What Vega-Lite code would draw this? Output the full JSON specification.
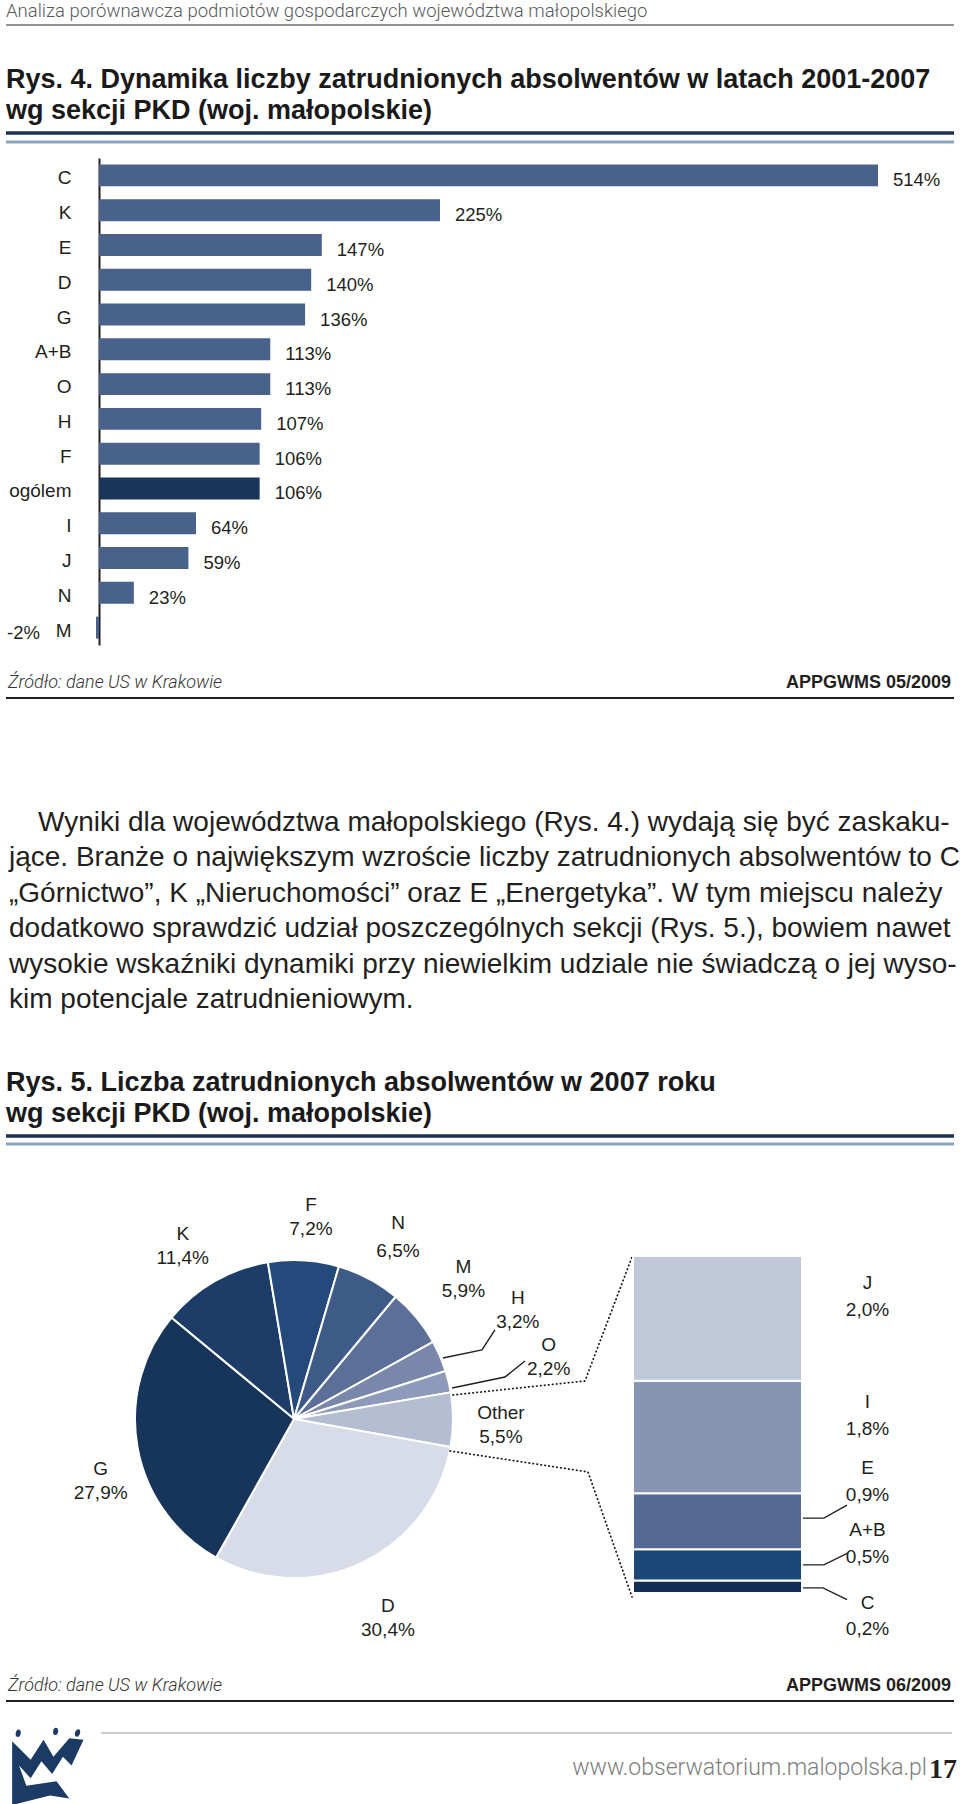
{
  "$schema": "https://vega.github.io/schema/vega-lite/v6.json",
  "width": 960,
  "height": 1804,
  "autosize": {"type": "fit", "contains": "padding"},
  "padding": 0,
  "background": "#ffffff",
  "config": {
    "view": {"stroke": null},
    "text": {"font": "Liberation Sans", "color": "#231f20"},
    "locale": {"number": {"decimal": ",", "thousands": " ", "grouping": [3], "currency": ["", " zł"], "minus": "-"}}
  },
  "datasets": {
    "dynamics": [
      {"section": "C", "dyn": 5.14},
      {"section": "K", "dyn": 2.25},
      {"section": "E", "dyn": 1.47},
      {"section": "D", "dyn": 1.40},
      {"section": "G", "dyn": 1.36},
      {"section": "A+B", "dyn": 1.13},
      {"section": "O", "dyn": 1.13},
      {"section": "H", "dyn": 1.07},
      {"section": "F", "dyn": 1.06},
      {"section": "ogólem", "dyn": 1.06},
      {"section": "I", "dyn": 0.64},
      {"section": "J", "dyn": 0.59},
      {"section": "N", "dyn": 0.23},
      {"section": "M", "dyn": -0.02}
    ],
    "employment": [
      {"section": "K", "share": 0.114},
      {"section": "F", "share": 0.072},
      {"section": "N", "share": 0.065},
      {"section": "M", "share": 0.059},
      {"section": "H", "share": 0.032},
      {"section": "O", "share": 0.022},
      {"section": "Other", "share": 0.055},
      {"section": "D", "share": 0.304},
      {"section": "G", "share": 0.279}
    ],
    "other_detail": [
      {"section": "C", "share": 0.002},
      {"section": "A+B", "share": 0.005},
      {"section": "E", "share": 0.009},
      {"section": "I", "share": 0.018},
      {"section": "J", "share": 0.020}
    ],
    "figures": [
      {"fig": "Rys. 4", "source": "Źródło: dane US w Krakowie", "code": "APPGWMS 05/2009"},
      {"fig": "Rys. 5", "source": "Źródło: dane US w Krakowie", "code": "APPGWMS 06/2009"}
    ]
  },
  "resolve": {"scale": {"x": "independent", "y": "independent", "theta": "independent", "color": "independent", "shape": "independent"}},
  "layer": [
    {
      "data": {"values": [{"line": 1, "text": "Analiza porównawcza podmiotów gospodarczych województwa małopolskiego"}]},
      "mark": {"type": "text", "align": "left", "baseline": "alphabetic", "font": "Roboto", "fontWeight": 300, "fontSize": 18.5, "color": "#58595b"},
      "encoding": {
        "x": {"datum": 0, "type": "quantitative", "scale": {"domain": [0, 1], "range": [6, 954]}, "axis": null},
        "y": {"field": "line", "type": "ordinal", "scale": {"type": "point", "domain": [1], "range": [17, 17], "padding": 0}, "axis": null},
        "text": {"field": "text"}
      }
    },
    {
      "data": {"values": [{"line": 1}]},
      "mark": {"type": "rule", "color": "#6d6e70", "strokeWidth": 1.5},
      "encoding": {
        "x": {"datum": 0, "type": "quantitative", "scale": {"domain": [0, 1], "range": [6, 954]}, "axis": null},
        "x2": {"datum": 1},
        "y": {"field": "line", "type": "ordinal", "scale": {"type": "point", "domain": [1], "range": [25, 25], "padding": 0}, "axis": null}
      }
    },
    {
      "data": {"values": [
        {"line": 1, "text": "Rys. 4. Dynamika liczby zatrudnionych absolwentów w latach 2001-2007"},
        {"line": 2, "text": "wg sekcji PKD (woj. małopolskie)"}
      ]},
      "mark": {"type": "text", "align": "left", "baseline": "alphabetic", "fontWeight": "bold", "fontSize": 27, "color": "#1a1a1a"},
      "encoding": {
        "x": {"datum": 0, "type": "quantitative", "scale": {"domain": [0, 1], "range": [6, 954]}, "axis": null},
        "y": {"field": "line", "type": "ordinal", "scale": {"type": "point", "domain": [1, 2], "range": [88, 119], "padding": 0}, "axis": null},
        "text": {"field": "text"}
      }
    },
    {
      "data": {"name": "figures"},
      "mark": {"type": "rule", "color": "#1f3152", "strokeWidth": 3.5},
      "encoding": {
        "x": {"datum": 0, "type": "quantitative", "scale": {"domain": [0, 1], "range": [6, 954]}, "axis": null},
        "x2": {"datum": 1},
        "y": {"field": "fig", "type": "nominal", "scale": {"type": "point", "domain": ["Rys. 4", "Rys. 5"], "range": [133, 1136], "padding": 0}, "axis": null}
      }
    },
    {
      "data": {"name": "figures"},
      "mark": {"type": "rule", "color": "#8aa6be", "strokeWidth": 3},
      "encoding": {
        "x": {"datum": 0, "type": "quantitative", "scale": {"domain": [0, 1], "range": [6, 954]}, "axis": null},
        "x2": {"datum": 1},
        "y": {"field": "fig", "type": "nominal", "scale": {"type": "point", "domain": ["Rys. 4", "Rys. 5"], "range": [142, 1144], "padding": 0}, "axis": null}
      }
    },
    {
      "data": {"name": "dynamics"},
      "encoding": {
        "y": {
          "field": "section", "type": "nominal",
          "scale": {"domain": ["C", "K", "E", "D", "G", "A+B", "O", "H", "F", "ogólem", "I", "J", "N", "M"], "range": [158, 645], "paddingInner": 0.37, "paddingOuter": 0.185},
          "axis": {"orient": "left", "offset": -99, "title": null, "ticks": false, "grid": false, "domainColor": "#231f20", "domainWidth": 2, "labelPadding": 28, "labelOffset": 3, "labelFont": "Liberation Sans", "labelFontSize": 19, "labelColor": "#231f20"}
        },
        "x": {"field": "dyn", "type": "quantitative", "scale": {"domain": [0, 5.14], "range": [99, 878], "nice": false}, "axis": null}
      },
      "layer": [
        {
          "mark": {"type": "bar"},
          "encoding": {"color": {"condition": {"test": "datum.section === 'ogólem'", "value": "#1b355a"}, "value": "#48628c"}}
        },
        {
          "transform": [{"filter": "datum.dyn >= 0"}],
          "mark": {"type": "text", "align": "left", "baseline": "middle", "dx": 15, "dy": 5, "fontSize": 18.5},
          "encoding": {"text": {"field": "dyn", "type": "quantitative", "format": ".0%"}}
        },
        {
          "transform": [{"filter": "datum.dyn < 0"}],
          "mark": {"type": "text", "align": "right", "baseline": "middle", "dx": -56, "dy": 5, "fontSize": 18.5},
          "encoding": {"text": {"field": "dyn", "type": "quantitative", "format": ".0%"}}
        }
      ]
    },
    {
      "data": {"name": "figures"},
      "mark": {"type": "text", "align": "left", "baseline": "alphabetic", "font": "Roboto", "fontWeight": 300, "fontStyle": "italic", "fontSize": 18, "dx": 2, "color": "#333333"},
      "encoding": {
        "x": {"datum": 0, "type": "quantitative", "scale": {"domain": [0, 1], "range": [6, 954]}, "axis": null},
        "y": {"field": "fig", "type": "nominal", "scale": {"type": "point", "domain": ["Rys. 4", "Rys. 5"], "range": [688, 1691], "padding": 0}, "axis": null},
        "text": {"field": "source"}
      }
    },
    {
      "data": {"name": "figures"},
      "mark": {"type": "text", "align": "right", "baseline": "alphabetic", "fontWeight": "bold", "fontSize": 18, "dx": -3},
      "encoding": {
        "x": {"datum": 1, "type": "quantitative", "scale": {"domain": [0, 1], "range": [6, 954]}, "axis": null},
        "y": {"field": "fig", "type": "nominal", "scale": {"type": "point", "domain": ["Rys. 4", "Rys. 5"], "range": [688, 1691], "padding": 0}, "axis": null},
        "text": {"field": "code"}
      }
    },
    {
      "data": {"name": "figures"},
      "mark": {"type": "rule", "color": "#231f20", "strokeWidth": 2},
      "encoding": {
        "x": {"datum": 0, "type": "quantitative", "scale": {"domain": [0, 1], "range": [6, 954]}, "axis": null},
        "x2": {"datum": 1},
        "y": {"field": "fig", "type": "nominal", "scale": {"type": "point", "domain": ["Rys. 4", "Rys. 5"], "range": [698, 1701], "padding": 0}, "axis": null}
      }
    },
    {
      "data": {"values": [
        {"line": 1, "text": "Wyniki dla województwa małopolskiego (Rys. 4.) wydają się być zaskaku-"},
        {"line": 2, "text": "jące. Branże o największym wzroście liczby zatrudnionych absolwentów to C"},
        {"line": 3, "text": "„Górnictwo”, K „Nieruchomości” oraz E „Energetyka”. W tym miejscu należy"},
        {"line": 4, "text": "dodatkowo sprawdzić udział poszczególnych sekcji (Rys. 5.), bowiem nawet"},
        {"line": 5, "text": "wysokie wskaźniki dynamiki przy niewielkim udziale nie świadczą o jej wyso-"},
        {"line": 6, "text": "kim potencjale zatrudnieniowym."}
      ]},
      "encoding": {
        "x": {"datum": 0, "type": "quantitative", "scale": {"domain": [0, 1], "range": [6, 954]}, "axis": null},
        "y": {"field": "line", "type": "ordinal", "scale": {"type": "point", "domain": [1, 2, 3, 4, 5, 6], "range": [830.5, 1008], "padding": 0}, "axis": null},
        "text": {"field": "text"}
      },
      "layer": [
        {"transform": [{"filter": "datum.line === 1"}], "mark": {"type": "text", "align": "left", "baseline": "alphabetic", "fontSize": 28, "dx": 32}},
        {"transform": [{"filter": "datum.line > 1"}], "mark": {"type": "text", "align": "left", "baseline": "alphabetic", "fontSize": 28, "dx": 3}}
      ]
    },
    {
      "data": {"values": [
        {"line": 1, "text": "Rys. 5. Liczba zatrudnionych absolwentów w 2007 roku"},
        {"line": 2, "text": "wg sekcji PKD (woj. małopolskie)"}
      ]},
      "mark": {"type": "text", "align": "left", "baseline": "alphabetic", "fontWeight": "bold", "fontSize": 27, "color": "#1a1a1a"},
      "encoding": {
        "x": {"datum": 0, "type": "quantitative", "scale": {"domain": [0, 1], "range": [6, 954]}, "axis": null},
        "y": {"field": "line", "type": "ordinal", "scale": {"type": "point", "domain": [1, 2], "range": [1091, 1122], "padding": 0}, "axis": null},
        "text": {"field": "text"}
      }
    },
    {
      "data": {"name": "employment"},
      "transform": [{"window": [{"op": "row_number", "as": "rn"}]}],
      "encoding": {
        "theta": {"field": "share", "type": "quantitative", "stack": true, "scale": {"range": [-0.88, 5.4032]}},
        "order": {"field": "rn", "type": "quantitative"},
        "detail": {"field": "section"},
        "x": {"datum": "Rys. 5", "type": "nominal", "scale": {"type": "point", "domain": ["Rys. 5"], "range": [294, 294], "padding": 0}, "axis": null},
        "y": {"datum": "Rys. 5", "type": "nominal", "scale": {"type": "point", "domain": ["Rys. 5"], "range": [1419, 1419], "padding": 0}, "axis": null}
      },
      "layer": [
        {
          "mark": {"type": "arc", "outerRadius": 159, "stroke": "#ffffff", "strokeWidth": 2},
          "encoding": {"color": {"field": "section", "type": "nominal", "scale": {"domain": ["K", "F", "N", "M", "H", "O", "Other", "D", "G"], "range": ["#1d3d68", "#234a7b", "#3e5b87", "#5c6f99", "#7987ab", "#8e9aba", "#b4bdd1", "#d8dce8", "#17345a"]}, "legend": null}}
        },
        {"mark": {"type": "text", "radius": 206, "thetaOffset": -0.048, "dy": -12, "fontSize": 19}, "encoding": {"text": {"field": "section"}, "opacity": {"condition": {"test": "datum.section === 'K'", "value": 1}, "value": 0}}},
        {"mark": {"type": "text", "radius": 206, "thetaOffset": -0.048, "dy": 12, "fontSize": 19}, "encoding": {"text": {"field": "share", "type": "quantitative", "format": ".1%"}, "opacity": {"condition": {"test": "datum.section === 'K'", "value": 1}, "value": 0}}},
        {"mark": {"type": "text", "radius": 203, "thetaOffset": 0.023, "dy": -12, "fontSize": 19}, "encoding": {"text": {"field": "section"}, "opacity": {"condition": {"test": "datum.section === 'F'", "value": 1}, "value": 0}}},
        {"mark": {"type": "text", "radius": 203, "thetaOffset": 0.023, "dy": 12, "fontSize": 19}, "encoding": {"text": {"field": "share", "type": "quantitative", "format": ".1%"}, "opacity": {"condition": {"test": "datum.section === 'F'", "value": 1}, "value": 0}}},
        {"mark": {"type": "text", "radius": 210, "thetaOffset": 0.028, "dy": -14, "fontSize": 19}, "encoding": {"text": {"field": "section"}, "opacity": {"condition": {"test": "datum.section === 'N'", "value": 1}, "value": 0}}},
        {"mark": {"type": "text", "radius": 210, "thetaOffset": 0.028, "dy": 14, "fontSize": 19}, "encoding": {"text": {"field": "share", "type": "quantitative", "format": ".1%"}, "opacity": {"condition": {"test": "datum.section === 'N'", "value": 1}, "value": 0}}},
        {"mark": {"type": "text", "radius": 207, "thetaOffset": 0.025, "dy": -12, "fontSize": 19}, "encoding": {"text": {"field": "section"}, "opacity": {"condition": {"test": "datum.section === 'Other'", "value": 1}, "value": 0}}},
        {"mark": {"type": "text", "radius": 207, "thetaOffset": 0.025, "dy": 12, "fontSize": 19}, "encoding": {"text": {"field": "share", "type": "quantitative", "format": ".1%"}, "opacity": {"condition": {"test": "datum.section === 'Other'", "value": 1}, "value": 0}}},
        {"mark": {"type": "text", "radius": 220, "dy": -12, "fontSize": 19}, "encoding": {"text": {"field": "section"}, "opacity": {"condition": {"test": "indexof(['M','D'], datum.section) >= 0", "value": 1}, "value": 0}}},
        {"mark": {"type": "text", "radius": 220, "dy": 12, "fontSize": 19}, "encoding": {"text": {"field": "share", "type": "quantitative", "format": ".1%"}, "opacity": {"condition": {"test": "indexof(['M','D'], datum.section) >= 0", "value": 1}, "value": 0}}},
        {"mark": {"type": "text", "radius": 249, "thetaOffset": -0.047, "dy": -12, "fontSize": 19}, "encoding": {"text": {"field": "section"}, "opacity": {"condition": {"test": "datum.section === 'H'", "value": 1}, "value": 0}}},
        {"mark": {"type": "text", "radius": 249, "thetaOffset": -0.047, "dy": 12, "fontSize": 19}, "encoding": {"text": {"field": "share", "type": "quantitative", "format": ".1%"}, "opacity": {"condition": {"test": "datum.section === 'H'", "value": 1}, "value": 0}}},
        {"mark": {"type": "text", "radius": 262, "dy": -12, "fontSize": 19}, "encoding": {"text": {"field": "section"}, "opacity": {"condition": {"test": "datum.section === 'O'", "value": 1}, "value": 0}}},
        {"mark": {"type": "text", "radius": 262, "dy": 12, "fontSize": 19}, "encoding": {"text": {"field": "share", "type": "quantitative", "format": ".1%"}, "opacity": {"condition": {"test": "datum.section === 'O'", "value": 1}, "value": 0}}},
        {"mark": {"type": "text", "radius": 203, "thetaOffset": -0.126, "dy": -12, "fontSize": 19}, "encoding": {"text": {"field": "section"}, "opacity": {"condition": {"test": "datum.section === 'G'", "value": 1}, "value": 0}}},
        {"mark": {"type": "text", "radius": 203, "thetaOffset": -0.126, "dy": 12, "fontSize": 19}, "encoding": {"text": {"field": "share", "type": "quantitative", "format": ".1%"}, "opacity": {"condition": {"test": "datum.section === 'G'", "value": 1}, "value": 0}}}
      ]
    },
    {
      "data": {"values": [{"line": 1}]},
      "mark": {"type": "point", "filled": false, "opacity": 1, "color": "#231f20", "strokeWidth": 1.4, "size": 101124, "shape": "M0.937,-0.384 L1.182,-0.434 L1.264,-0.560 M0.994,-0.195 L1.327,-0.264 L1.453,-0.365"},
      "encoding": {
        "x": {"field": "line", "type": "ordinal", "scale": {"type": "point", "domain": [1], "range": [294, 294], "padding": 0}, "axis": null},
        "y": {"field": "line", "type": "ordinal", "scale": {"type": "point", "domain": [1], "range": [1419, 1419], "padding": 0}, "axis": null}
      }
    },
    {
      "data": {"values": [{"line": 1}]},
      "mark": {"type": "point", "filled": false, "opacity": 1, "color": "#231f20", "strokeWidth": 1.8, "strokeDash": [0.5, 3.5], "strokeCap": "round", "size": 101124, "shape": "M1.0,-0.151 L1.830,-0.239 L2.126,-1.019 M0.981,0.201 L1.849,0.333 L2.126,1.119"},
      "encoding": {
        "x": {"field": "line", "type": "ordinal", "scale": {"type": "point", "domain": [1], "range": [294, 294], "padding": 0}, "axis": null},
        "y": {"field": "line", "type": "ordinal", "scale": {"type": "point", "domain": [1], "range": [1419, 1419], "padding": 0}, "axis": null}
      }
    },
    {
      "data": {"name": "other_detail"},
      "transform": [{"window": [{"op": "row_number", "as": "rn"}]}],
      "encoding": {
        "x": {"datum": "Other", "type": "nominal", "scale": {"type": "band", "domain": ["Other"], "range": [633, 802], "paddingInner": 0, "paddingOuter": 0}, "axis": null},
        "order": {"field": "rn", "type": "quantitative"},
        "detail": {"field": "section"}
      },
      "layer": [
        {
          "mark": {"type": "bar", "stroke": "#ffffff", "strokeWidth": 2},
          "encoding": {
            "y": {"field": "share", "type": "quantitative", "stack": "zero", "scale": {"domain": [0, 0.054], "range": [1593, 1256], "nice": false}, "axis": null},
            "color": {"field": "section", "type": "nominal", "scale": {"domain": ["C", "A+B", "E", "I", "J"], "range": ["#142f55", "#1b4877", "#546a94", "#8895b2", "#c0c7d8"]}, "legend": null}
          }
        },
        {
          "mark": {"type": "point", "filled": false, "opacity": 1, "color": "#231f20", "strokeWidth": 1.4, "size": 1936, "xOffset": 107.5},
          "encoding": {
            "y": {"field": "share", "type": "quantitative", "stack": "zero", "bandPosition": 0.5, "axis": null},
            "shape": {"field": "section", "type": "nominal", "scale": {"domain": ["C", "A+B", "E", "I", "J"], "range": ["M-1,0.05 L-0.09,0.05 L1,0.59", "M-1,0 L-0.05,0 L1.05,-0.55", "M-1,-0.14 L-0.05,-0.14 L1,-0.73", "M0,0", "M0,0"]}, "legend": null},
            "opacity": {"condition": {"test": "indexof(['E','A+B','C'], datum.section) >= 0", "value": 1}, "value": 0}
          }
        },
        {
          "mark": {"type": "text", "dx": 150, "dy": -35, "fontSize": 19},
          "encoding": {
            "y": {"field": "share", "type": "quantitative", "stack": "zero", "bandPosition": 0.5, "axis": null},
            "text": {"field": "section"},
            "opacity": {"condition": {"test": "indexof(['J','I','A+B'], datum.section) >= 0", "value": 1}, "value": 0}
          }
        },
        {
          "mark": {"type": "text", "dx": 150, "dy": -8, "fontSize": 19},
          "encoding": {
            "y": {"field": "share", "type": "quantitative", "stack": "zero", "bandPosition": 0.5, "axis": null},
            "text": {"field": "share", "type": "quantitative", "format": ".1%"},
            "opacity": {"condition": {"test": "indexof(['J','I','A+B'], datum.section) >= 0", "value": 1}, "value": 0}
          }
        },
        {
          "mark": {"type": "text", "dx": 150, "dy": -53, "fontSize": 19},
          "encoding": {
            "y": {"field": "share", "type": "quantitative", "stack": "zero", "bandPosition": 0.5, "axis": null},
            "text": {"field": "section"},
            "opacity": {"condition": {"test": "datum.section === 'E'", "value": 1}, "value": 0}
          }
        },
        {
          "mark": {"type": "text", "dx": 150, "dy": -26, "fontSize": 19},
          "encoding": {
            "y": {"field": "share", "type": "quantitative", "stack": "zero", "bandPosition": 0.5, "axis": null},
            "text": {"field": "share", "type": "quantitative", "format": ".1%"},
            "opacity": {"condition": {"test": "datum.section === 'E'", "value": 1}, "value": 0}
          }
        },
        {
          "mark": {"type": "text", "dx": 150, "dy": 16, "fontSize": 19},
          "encoding": {
            "y": {"field": "share", "type": "quantitative", "stack": "zero", "bandPosition": 0.5, "axis": null},
            "text": {"field": "section"},
            "opacity": {"condition": {"test": "datum.section === 'C'", "value": 1}, "value": 0}
          }
        },
        {
          "mark": {"type": "text", "dx": 150, "dy": 42, "fontSize": 19},
          "encoding": {
            "y": {"field": "share", "type": "quantitative", "stack": "zero", "bandPosition": 0.5, "axis": null},
            "text": {"field": "share", "type": "quantitative", "format": ".1%"},
            "opacity": {"condition": {"test": "datum.section === 'C'", "value": 1}, "value": 0}
          }
        }
      ]
    },
    {
      "data": {"values": [{"line": 1}]},
      "mark": {"type": "rule", "color": "#9a9a9a", "strokeWidth": 1},
      "encoding": {
        "x": {"datum": 0, "type": "quantitative", "scale": {"domain": [0, 1], "range": [101, 952]}, "axis": null},
        "x2": {"datum": 1},
        "y": {"field": "line", "type": "ordinal", "scale": {"type": "point", "domain": [1], "range": [1733, 1733], "padding": 0}, "axis": null}
      }
    },
    {
      "data": {"values": [{"line": 1, "text": "www.obserwatorium.malopolska.pl"}]},
      "mark": {"type": "text", "align": "right", "baseline": "alphabetic", "font": "Roboto", "fontWeight": 300, "fontSize": 23, "color": "#7d7d7d", "dx": -27},
      "encoding": {
        "x": {"datum": 1, "type": "quantitative", "scale": {"domain": [0, 1], "range": [6, 954]}, "axis": null},
        "y": {"field": "line", "type": "ordinal", "scale": {"type": "point", "domain": [1], "range": [1775, 1775], "padding": 0}, "axis": null},
        "text": {"field": "text"}
      }
    },
    {
      "data": {"values": [{"line": 1, "text": "17"}]},
      "mark": {"type": "text", "align": "right", "baseline": "alphabetic", "font": "Liberation Sans Narrow", "fontWeight": "bold", "fontSize": 28, "color": "#231f20", "dx": 3},
      "encoding": {
        "x": {"datum": 1, "type": "quantitative", "scale": {"domain": [0, 1], "range": [6, 954]}, "axis": null},
        "y": {"field": "line", "type": "ordinal", "scale": {"type": "point", "domain": [1], "range": [1778, 1778], "padding": 0}, "axis": null},
        "text": {"field": "text"}
      }
    },
    {
      "data": {"values": [{"line": 1}]},
      "mark": {"type": "point", "filled": true, "opacity": 1, "color": "#1b3a64", "size": 7396, "shape": "M-0.80,-0.65 C-0.80,-0.76 -0.68,-0.80 -0.68,-0.68 C-0.68,-0.56 -0.80,-0.55 -0.80,-0.65 Z M0.07,-0.70 C0.07,-0.81 0.19,-0.84 0.19,-0.72 C0.19,-0.60 0.07,-0.60 0.07,-0.70 Z M0.58,-0.67 C0.60,-0.78 0.72,-0.80 0.70,-0.68 C0.68,-0.56 0.56,-0.56 0.58,-0.67 Z M-0.88,-0.48 L-0.45,-0.05 L-0.15,-0.52 L0.08,-0.12 L0.45,-0.55 L0.78,-0.52 L0.50,0.08 L0.30,-0.12 L0.05,0.28 L-0.20,-0.02 L-0.45,0.38 L-0.72,0.08 L-0.55,0.55 L0.15,0.45 L0.45,0.85 L0.0,0.78 L-0.88,1.0 Z"},
      "encoding": {
        "x": {"field": "line", "type": "ordinal", "scale": {"type": "point", "domain": [1], "range": [50, 50], "padding": 0}, "axis": null},
        "y": {"field": "line", "type": "ordinal", "scale": {"type": "point", "domain": [1], "range": [1762, 1762], "padding": 0}, "axis": null}
      }
    }
  ]
}
